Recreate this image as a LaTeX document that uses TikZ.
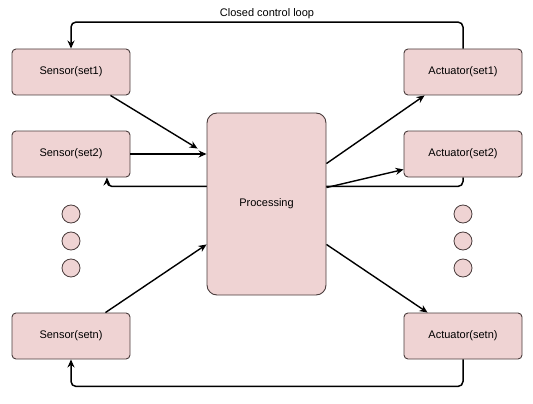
\documentclass[tikz,border=0pt]{standalone}
\usepackage{fontspec}
\setmainfont{Liberation Sans}
\usetikzlibrary{arrows.meta,backgrounds}
\definecolor{boxfill}{HTML}{EFD3D3}
\definecolor{boxline}{HTML}{4A3C3C}
\begin{document}
\begin{tikzpicture}[x=1pt,y=-1pt,
  every node/.style={font=\fontsize{11}{13}\selectfont},
  unit/.style={draw=boxline,fill=boxfill,line width=0.9pt,rounded corners=4pt,
    minimum width=118pt,minimum height=46pt,inner sep=0pt},
  proc/.style={draw=boxline,fill=boxfill,line width=0.9pt,rounded corners=10pt,
    minimum width=119pt,minimum height=182pt,inner sep=0pt},
  dot/.style={circle,draw=boxline,fill=boxfill,line width=0.8pt,minimum size=18pt,inner sep=0pt},
  conn/.style={line width=1.4pt,-{Stealth[length=8pt,width=7pt]}},
  loop/.style={line width=1.5pt,rounded corners=5pt,-{Stealth[length=8pt,width=7pt]}}]
\useasboundingbox (0,0) rectangle (533,404);
\node[unit] (s1) at (71,72) {Sensor(set1)};
\node[unit] (s2) at (71,154) {Sensor(set2)};
\node[unit] (sn) at (71,336) {Sensor(setn)};
\node[unit] (a1) at (463,72) {Actuator(set1)};
\node[unit] (a2) at (463,154) {Actuator(set2)};
\node[unit] (an) at (463,336) {Actuator(setn)};
\node[proc] (p) at (266.5,204) {Processing};
\node[dot] (l1) at (71,214) {};
\node[dot] (l2) at (71,241) {};
\node[dot] (l3) at (71,268) {};
\node[dot] (r1) at (463,214) {};
\node[dot] (r2) at (463,241) {};
\node[dot] (r3) at (463,268) {};
% connectors
\draw[conn] ([xshift=-20pt]s1.south east) -- ([xshift=-9pt,yshift=-36pt]p.north west);
\draw[conn] (s2.east) -- (s2.east -| p.west);
\draw[conn] ([xshift=-25pt]sn.north east) -- ([yshift=51pt]p.south west);
\draw[conn] ([yshift=-51pt]p.north east) -- ([xshift=21pt]a1.south west);
\draw[conn] ([yshift=-75pt]p.north east) -- ([yshift=8pt]a2.south west);
\draw[conn] ([yshift=51pt]p.south east) -- ([xshift=24pt]an.north west);
% loops
\draw[loop] (a1.north) -- ++(0,-26.5) -| node[pos=0.25,above=-1pt] (lbl) {Closed control loop} (s1.north);
\begin{pgfonlayer}{background}
\draw[loop] (a2.south) -- ++(0,9) -| ([xshift=36pt]s2.south);
\end{pgfonlayer}
\draw[loop] (an.south) -- ++(0,27) -| (sn.south);
\end{tikzpicture}
\end{document}
